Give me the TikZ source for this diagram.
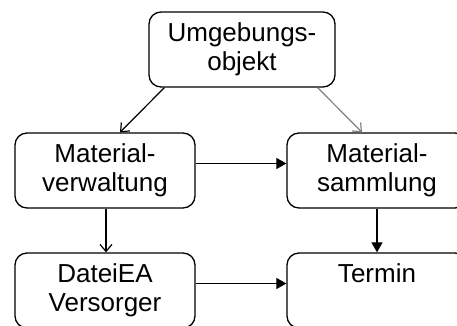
\documentclass[tikz,border=0pt]{standalone}
\usepackage{fontspec}
\setmainfont{Liberation Sans}
\usetikzlibrary{arrows.meta}
\begin{document}
\begin{tikzpicture}[x=1pt,y=1pt,
  box/.style={draw,line width=1.3pt,rounded corners=12pt,minimum height=75pt,align=center,
    font=\fontsize{26}{29}\selectfont,inner sep=0pt},
  open/.style={-{Straight Barb[length=7pt,width=12pt]},line width=1.2pt},
  filled/.style={-{Triangle[length=10pt,width=11pt]},line width=1.2pt}]
\useasboundingbox (0,0) rectangle (457,325);
\node[box,minimum width=186pt] (u) at (242,275.5) {Umgebungs-\\objekt};
\node[box,minimum width=180pt] (mv) at (105,154.5) {Material-\\verwaltung};
\node[box,minimum width=180pt] (ms) at (377,154.5) {Material-\\sammlung};
\node[box,minimum width=180pt] (d) at (105,34.5) {DateiEA\\Versorger};
\node[box,minimum width=180pt] (t) at (377,34.5) {Termin\\\phantom{g}};
\draw[open] ([xshift=16pt]u.south west) -- ([xshift=15pt]mv.north);
\draw[open,draw=gray] ([xshift=-18pt]u.south east) -- ([xshift=-15pt]ms.north);
\draw[filled] ([yshift=7pt]mv.east) -- ([yshift=7pt]ms.west);
\draw[open] ([xshift=1pt]mv.south) -- ([xshift=1pt]d.north);
\draw[filled] (ms.south) -- (t.north);
\draw[filled] ([yshift=7pt]d.east) -- ([yshift=7pt]t.west);
\end{tikzpicture}
\end{document}
